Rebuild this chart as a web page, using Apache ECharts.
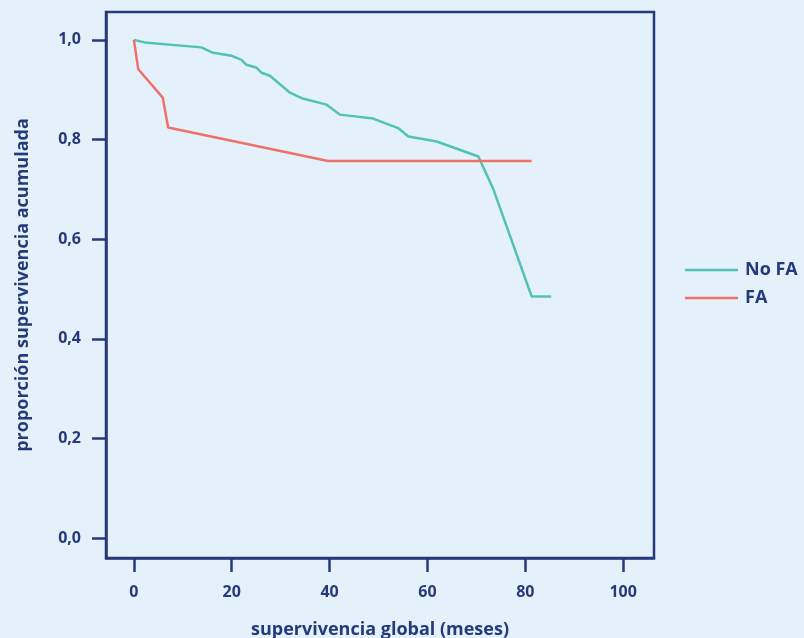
<!DOCTYPE html>
<html><head><meta charset="utf-8">
<script src="https://cdn.jsdelivr.net/npm/echarts@6/dist/echarts.min.js"></script>
<style>html,body{margin:0;padding:0;background:#e4f1fa;}#c{width:804px;height:638px;}</style>
</head><body><div id="c"></div>
<script>
// Data (months, cumulative survival)
const noFA_x = [0, 2.2, 13.8, 16.2, 20.0, 22.0, 23.0, 25.1, 26.1, 27.8, 31.9, 34.3, 39.4, 42.1, 48.9, 54.0, 56.1, 61.9, 70.4, 73.4, 81.3, 85.3];
const noFA_y = [1.0, 0.995, 0.985, 0.974, 0.968, 0.960, 0.950, 0.944, 0.934, 0.928, 0.894, 0.883, 0.870, 0.850, 0.842, 0.823, 0.806, 0.796, 0.766, 0.702, 0.485, 0.485];
const fa_x = [0, 0.9, 5.9, 7.0, 39.7, 81.3];
const fa_y = [1.0, 0.941, 0.884, 0.824, 0.757, 0.757];
const xTicks = [0, 20, 40, 60, 80, 100];
const yTicks = [0, 0.2, 0.4, 0.6, 0.8, 1.0];
const seriesNames = ['No FA', 'FA'];

const navy = '#253a7b';
const font = 'Open Sans';
const chart = echarts.init(document.getElementById('c'));
chart.setOption({
  backgroundColor: '#e4f1fa',
  animation: false,
  grid: { left: 106, right: 150, top: 12, bottom: 80, show: true, borderColor: navy, borderWidth: 2.5,
    containLabel: false, outerBoundsMode: 'none' },
  legend: {
    orient: 'vertical', left: 680, top: 256, icon: 'rect', itemWidth: 53, itemHeight: 2.5, itemGap: 10,
    textStyle: { color: navy, fontFamily: font, fontWeight: 'bold', fontSize: 18, lineHeight: 18, padding: [0, 0, 0, 2] },
    data: seriesNames
  },
  xAxis: {
    type: 'value', min: -5.7, max: 106.3,
    name: 'supervivencia global (meses)', nameLocation: 'middle', nameGap: 63,
    nameTextStyle: { color: navy, fontFamily: font, fontWeight: 'bold', fontSize: 18 },
    axisLine: { show: true, onZero: false, lineStyle: { color: navy, width: 2.5 } },
    axisTick: { show: true, length: 14, customValues: xTicks, lineStyle: { color: navy, width: 2.5 } },
    axisLabel: { customValues: xTicks, margin: 26, color: navy, fontFamily: font, fontWeight: 'bold', fontSize: 16,
      formatter: v => String(v) },
    splitLine: { show: false }
  },
  yAxis: {
    type: 'value', min: -0.04, max: 1.056,
    name: 'proporción supervivencia acumulada', nameLocation: 'middle', nameGap: 74, nameRotate: 90,
    nameTextStyle: { color: navy, fontFamily: font, fontWeight: 'bold', fontSize: 18 },
    axisLine: { show: true, onZero: false, lineStyle: { color: navy, width: 2.5 } },
    axisTick: { show: true, length: 14, customValues: yTicks, lineStyle: { color: navy, width: 2.5 } },
    axisLabel: { customValues: yTicks, margin: 25, color: navy, fontFamily: font, fontWeight: 'bold', fontSize: 16,
      formatter: v => v.toFixed(1).replace('.', ',') },
    splitLine: { show: false }
  },
  series: [
    { name: seriesNames[0], type: 'line', symbol: 'none', color: '#52c2b6',
      lineStyle: { width: 2.5, color: '#52c2b6' },
      data: noFA_x.map((x, i) => [x, noFA_y[i]]) },
    { name: seriesNames[1], type: 'line', symbol: 'none', color: '#f0706a',
      lineStyle: { width: 2.5, color: '#f0706a' },
      data: fa_x.map((x, i) => [x, fa_y[i]]) }
  ]
});
</script></body></html>
